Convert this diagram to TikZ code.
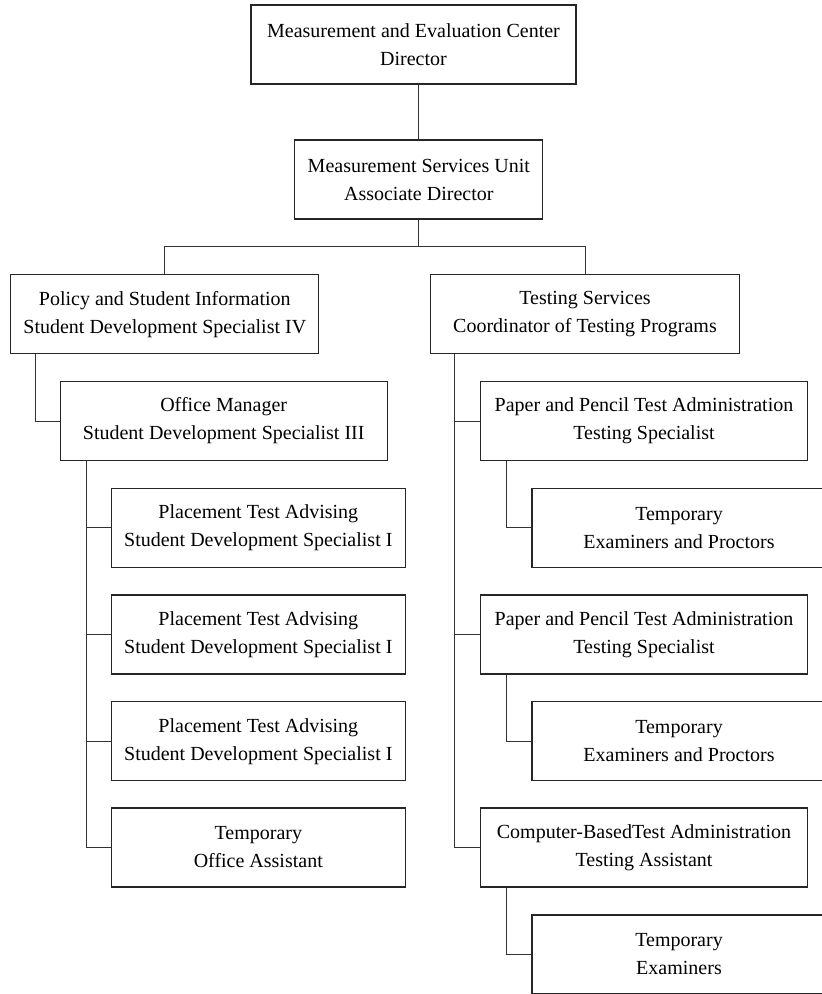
\documentclass[tikz,border=0pt]{standalone}
\usepackage{fontspec}
\setmainfont{Liberation Serif}
\usepackage{tikz}

\begin{document}
\begin{tikzpicture}[x=1pt, y=-1pt,
		node_style/.style={rectangle,draw=black!85,line width=1.2pt,fill=white,align=center,inner sep=0pt,minimum height=79pt,font=\fontsize{20}{28}\selectfont},
		wide_style/.style={node_style,minimum width=327pt},
		narrow_style/.style={node_style,minimum width=294pt},
		edge_style/.style={draw=black!80,line width=1pt}]
		
		\useasboundingbox (0,0) rectangle (822,994);
		
		\node[node_style,minimum width=325pt] (dir) at (413.5,44.5) {Measurement and Evaluation Center\\Director};
		\node[node_style,minimum width=248pt] (assoc) at (418.8,179.5) {Measurement Services Unit\\Associate Director};
		\node[node_style,minimum width=308pt] (policy) at (164.8,314.2) {Policy and Student Information\\Student Development Specialist IV};
		\node[node_style,minimum width=309pt] (testing) at (585,314.2) {Testing Services\\Coordinator of Testing Programs};
		\node[wide_style] (office) at (223.7,421) {Office Manager\\Student Development Specialist III};
		\node[narrow_style] (pta1) at (258.3,527.8) {Placement Test Advising\\Student Development Specialist I};
		\node[narrow_style] (pta2) at (258.3,634.5) {Placement Test Advising\\Student Development Specialist I};
		\node[narrow_style] (pta3) at (258.3,741.2) {Placement Test Advising\\Student Development Specialist I};
		\node[narrow_style] (assist) at (258.3,847.5) {Temporary\\Office Assistant};
		\node[wide_style] (paper1) at (644,421) {Paper and Pencil Test Administration\\Testing Specialist};
		\node[narrow_style] (temp1) at (679,527.8) {Temporary\\Examiners and Proctors};
		\node[wide_style] (paper2) at (644,634.5) {Paper and Pencil Test Administration\\Testing Specialist};
		\node[narrow_style] (temp2) at (679,741.2) {Temporary\\Examiners and Proctors};
		\node[wide_style] (cbt) at (644,847.5) {Computer-BasedTest Administration\\Testing Assistant};
		\node[narrow_style] (temp3) at (679,954.5) {Temporary\\Examiners};
		
		\coordinate (bus) at (418.8,246.7);
		
		\draw[edge_style]  (assoc.north) -- (assoc.north |- dir.south);
		\draw[edge_style]  (assoc.south) -- (bus) -| (policy.north);
		\draw[edge_style]  (bus) -| (testing.north);
		\draw[edge_style]  ([xshift=25pt]policy.south west) |- (office.west);
		\draw[edge_style]  ([xshift=26.4pt]office.south west) |- (pta1.west);
		\draw[edge_style]  ([xshift=26.4pt]office.south west) |- (pta2.west);
		\draw[edge_style]  ([xshift=26.4pt]office.south west) |- (pta3.west);
		\draw[edge_style]  ([xshift=26.4pt]office.south west) |- (assist.west);
		\draw[edge_style]  ([xshift=24.6pt]testing.south west) |- (paper1.west);
		\draw[edge_style]  ([xshift=24.6pt]testing.south west) |- (paper2.west);
		\draw[edge_style]  ([xshift=24.6pt]testing.south west) |- (cbt.west);
		\draw[edge_style]  ([xshift=26.6pt]paper1.south west) |- (temp1.west);
		\draw[edge_style]  ([xshift=26.6pt]paper2.south west) |- (temp2.west);
		\draw[edge_style]  ([xshift=26.6pt]cbt.south west) |- (temp3.west);
		
\end{tikzpicture}
\end{document}
